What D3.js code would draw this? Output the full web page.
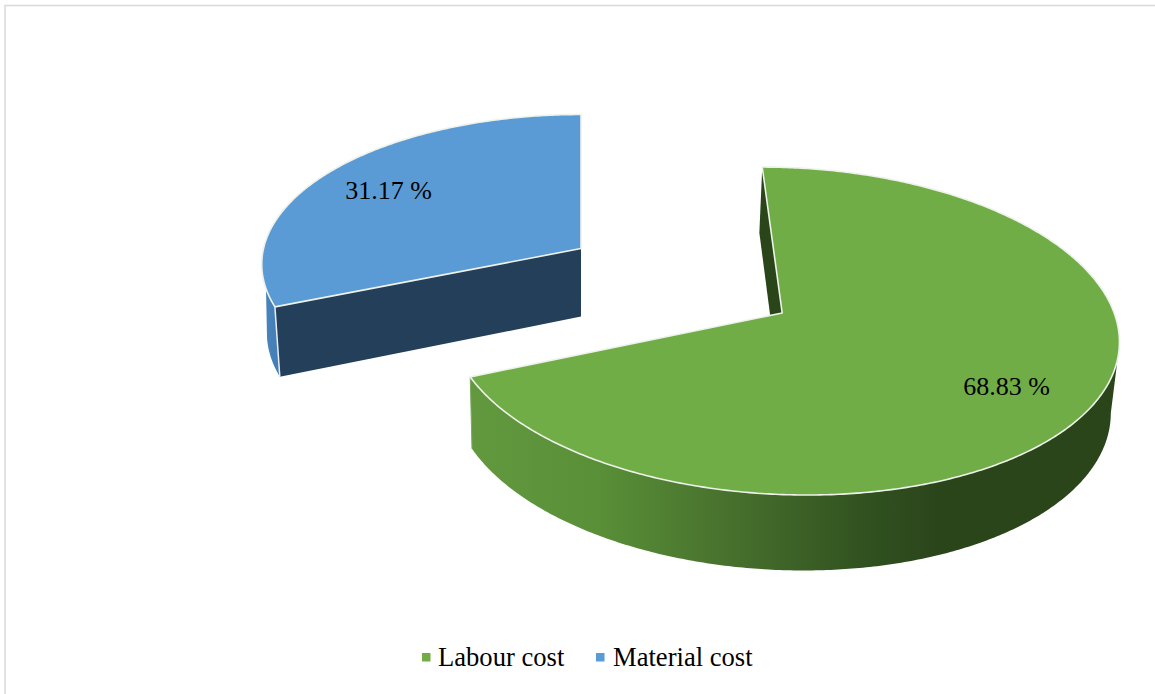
<!DOCTYPE html>
<html><head><meta charset="utf-8">
<style>html,body{margin:0;padding:0;background:#fff}svg{display:block}text{font-family:"Liberation Serif",serif;fill:#000}</style>
<script src="https://cdn.jsdelivr.net/npm/d3@7"></script></head>
<body><svg id="c" width="1155" height="694"></svg>
<script>
const categories = ["Labour cost", "Material cost"];
const values = [68.83, 31.17];
const labels = ["68.83 %", "31.17 %"];
const topColors = ["#70ad47", "#5b9bd5"];
const wallColors = ["#2b451b", "#243f5a"];

const svg = d3.select("#c");
const defs = svg.append("defs");
const g1 = defs.append("linearGradient").attr("id","gs0").attr("gradientUnits","userSpaceOnUse")
  .attr("x1",471).attr("x2",1119).attr("y1",0).attr("y2",0);
[[0,"#62993f"],[0.2,"#598f37"],[0.4,"#47702d"],[0.62,"#30501f"],[0.72,"#2b451b"],[1,"#2b451b"]]
  .forEach(s=>g1.append("stop").attr("offset",s[0]).attr("stop-color",s[1]));
const g2 = defs.append("linearGradient").attr("id","gs1").attr("gradientUnits","userSpaceOnUse")
  .attr("x1",262).attr("x2",282).attr("y1",0).attr("y2",0);
[[0,"#4a86bf"],[1,"#417cb3"]].forEach(s=>g2.append("stop").attr("offset",s[0]).attr("stop-color",s[1]));

svg.append("rect").attr("x",5).attr("y",5.5).attr("width",1160).attr("height",700)
  .attr("fill","#fff").attr("stroke","#d9d9d9").attr("stroke-width",1.5);

// Perspective projection of the pie plane (unit = pie radius)
const k = 0.11;
const sx = d3.scaleLinear().domain([0,1]).range([581,913]);
const sy = d3.scaleLinear().domain([0,1]).range([313,475]);
const project = (x,z,level) => {
  const w = 1 - k*z;
  if (level === 0) return [sx(x/w), sy(z/w)];
  return [sx(0.984*x/w), sy(1.03*z/w)+70];
};

const arcs = d3.pie().sort(null).value(d=>d).startAngle(0).endAngle(2*Math.PI)(values);
// explosion centres, along each slice's bisector
const explode = [[0.606,0],[0,-0.416]];
const line = d3.line();

function rim(i,a0,a1,level){
  const pts=[]; const n=Math.ceil(Math.abs(a1-a0)/0.01);
  d3.range(n+1).forEach(j=>{
    const a=a0+(a1-a0)*j/n;
    pts.push(project(explode[i][0]+Math.sin(a),explode[i][1]-Math.cos(a),level));
  });
  return pts;
}
const apex=(i,level)=>project(explode[i][0],explode[i][1],level);

// back layer: blue then green
[1,0].forEach(i=>{
  const a=arcs[i], g=svg.append("g");
  const wallAngle = a.startAngle;
  const edge=(ang,l)=>project(explode[i][0]+Math.sin(ang),explode[i][1]-Math.cos(ang),l);
  // outer side: each rim stops at its silhouette tangent, so the closing edge is straight
  const sidePts = i===0
    ? rim(i,1.85,a.endAngle,0).concat(rim(i,a.endAngle,1.75,1))
    : rim(i,a.startAngle,4.75,0).concat(rim(i,4.573,a.startAngle,1));
  g.append("path").attr("d",line(sidePts)+"Z").attr("fill",`url(#gs${i})`);
  // cut wall
  g.append("path").attr("d",line([apex(i,0),edge(wallAngle,0),edge(wallAngle,1),apex(i,1)])+"Z")
    .attr("fill",wallColors[i]);
  if(i===1){ g.append("path").attr("d",line([edge(wallAngle,0),edge(wallAngle,1)]))
    .attr("stroke","#e8edf3").attr("stroke-width",1.5).attr("fill","none"); }
  else { g.append("path").attr("d",line([edge(a.endAngle,0),edge(a.endAngle,1)]))
    .attr("stroke","#7fa865").attr("stroke-width",1).attr("fill","none"); }
  // top face
  const face=[apex(i,0)].concat(rim(i,a.startAngle,a.endAngle,0));
  g.append("path").attr("d",line(face)+"Z").attr("fill",topColors[i])
    .attr("stroke","#eef2ea").attr("stroke-width",1.6).attr("stroke-linejoin","round");
});

// data labels
const labelPos=[[1006.5,395],[388.5,199]];
labels.forEach((t,i)=>{
  svg.append("text").attr("x",labelPos[i][0]).attr("y",labelPos[i][1])
    .attr("text-anchor","middle").attr("font-size",26).text(t);
});

// legend
const legendX=[[422,438],[596,613]];
categories.forEach((c,i)=>{
  svg.append("rect").attr("x",legendX[i][0]).attr("y",653).attr("width",8.5).attr("height",8.5).attr("fill",topColors[i]);
  svg.append("text").attr("x",legendX[i][1]).attr("y",666).attr("font-size",26.6).text(c);
});
</script></body></html>
